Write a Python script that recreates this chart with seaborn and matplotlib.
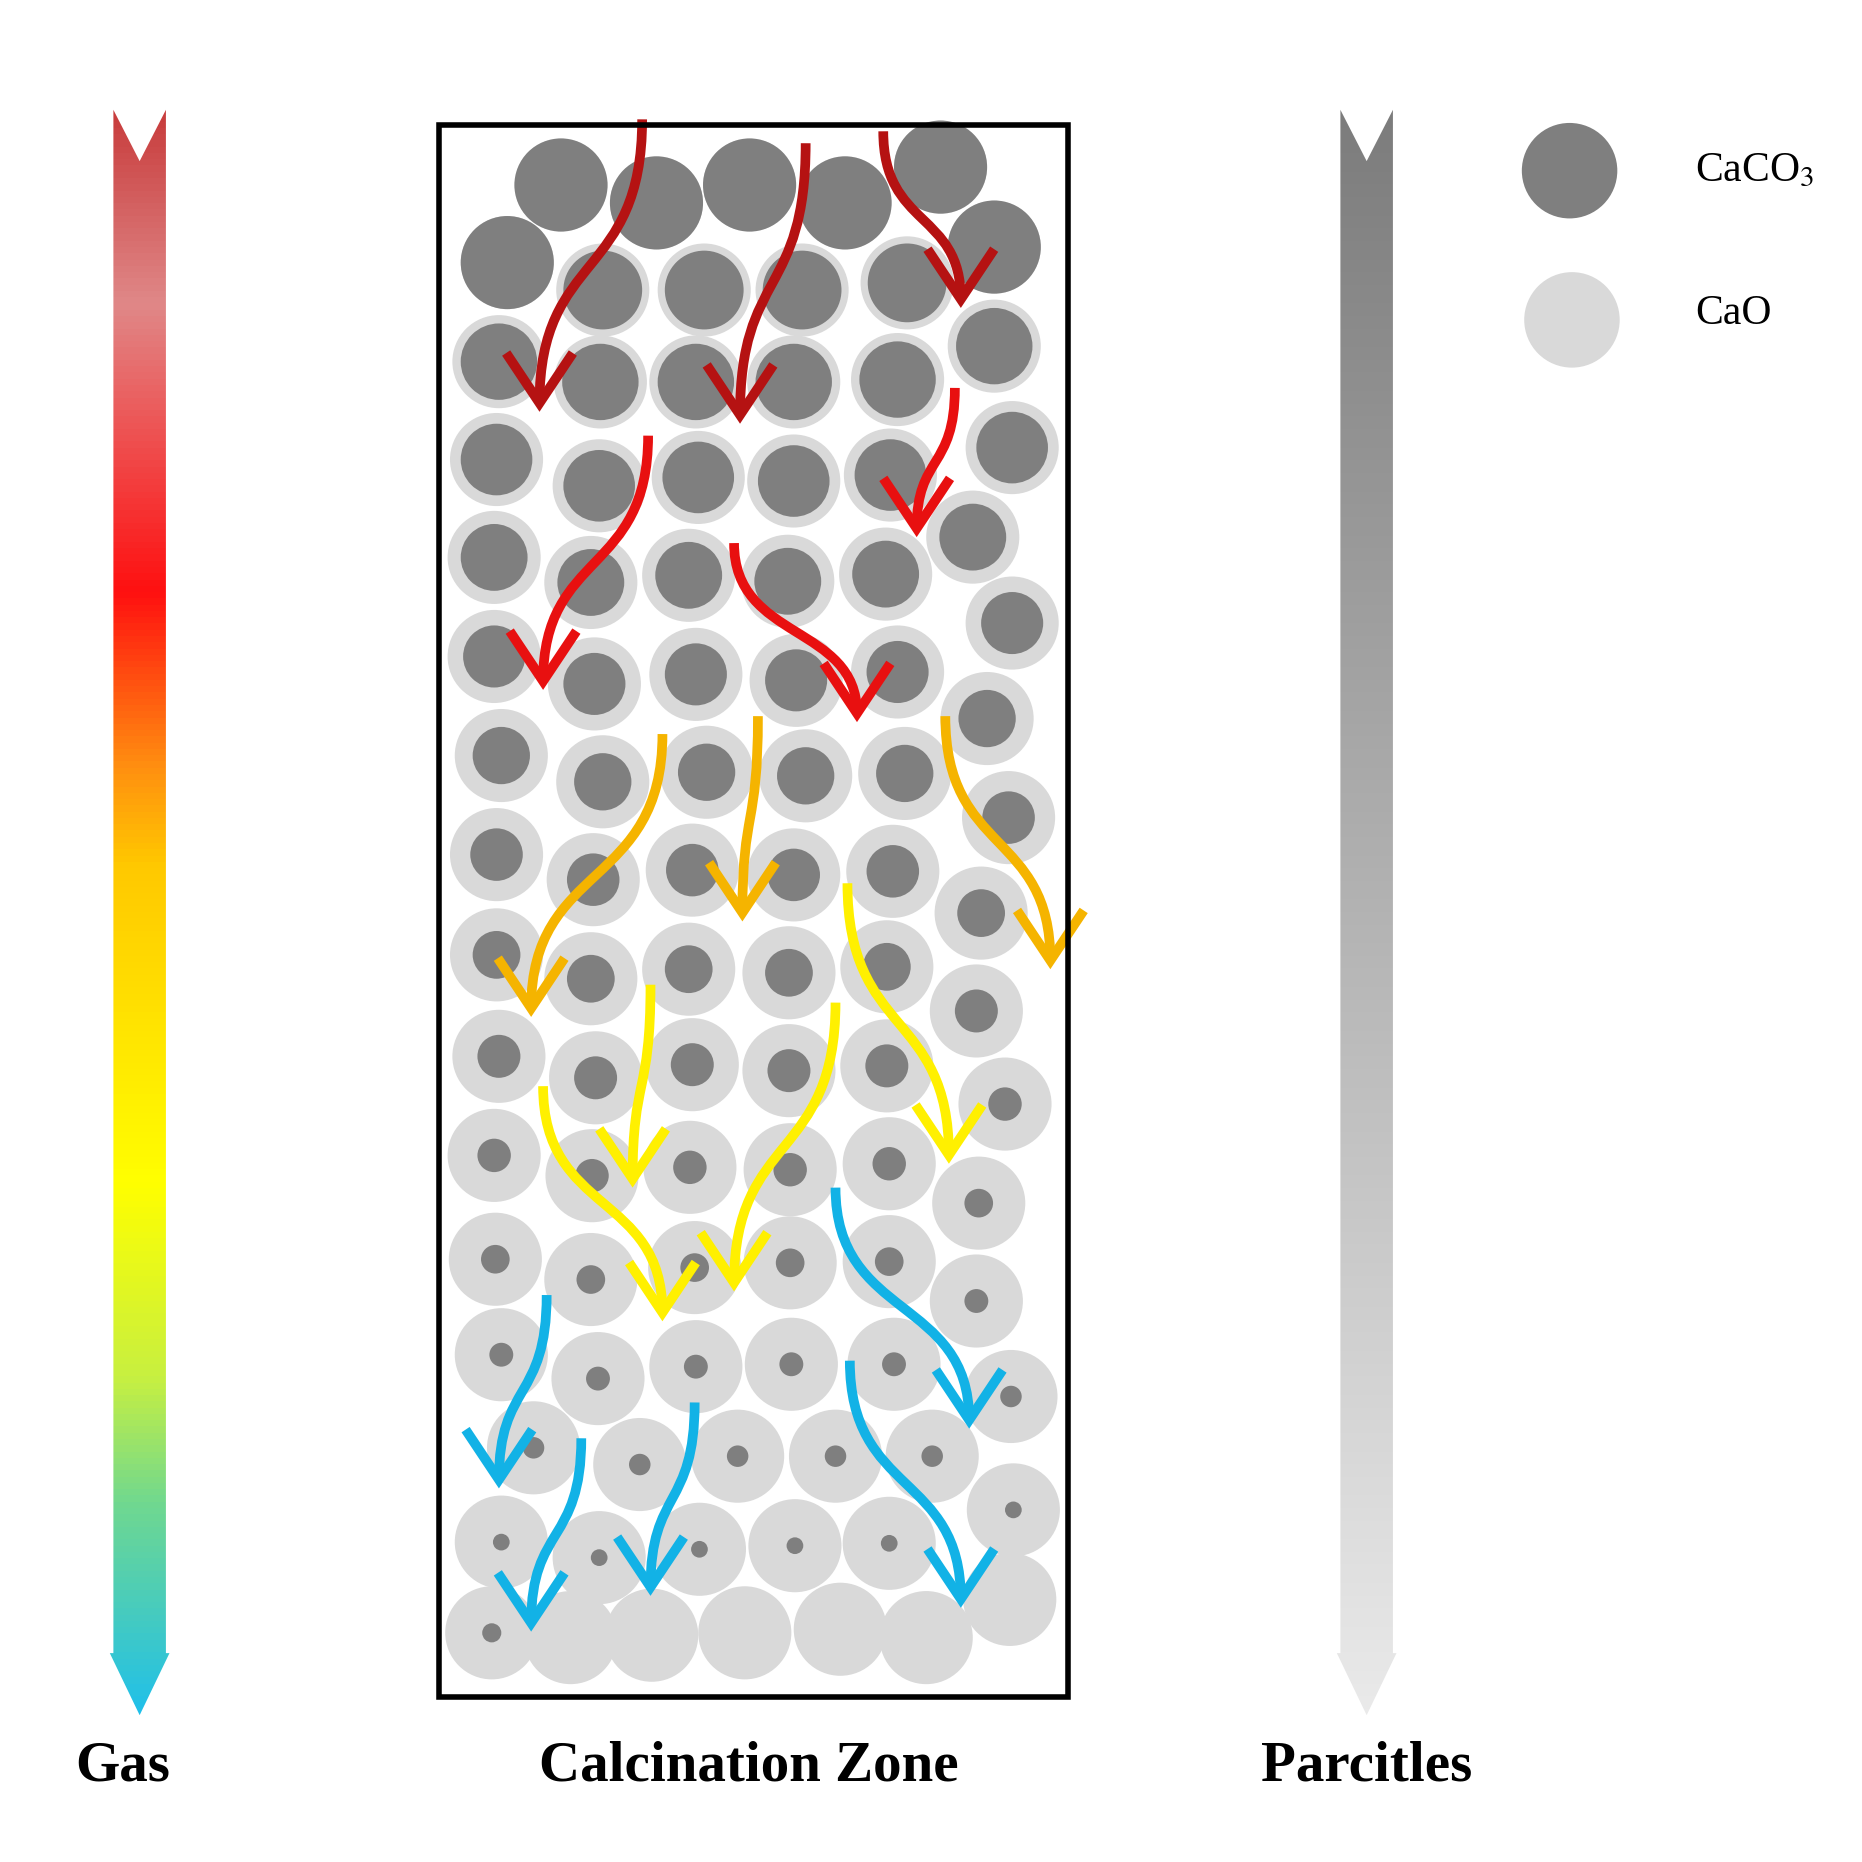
"""Calcination zone schematic: gas flow vs particle flow."""
import numpy as np
import matplotlib
matplotlib.use('Agg')
import matplotlib.pyplot as plt
import seaborn as sns
from matplotlib.path import Path
from matplotlib.patches import PathPatch, FancyArrowPatch, Circle, Rectangle
from matplotlib.colors import LinearSegmentedColormap

sns.set_style('white')
plt.rcParams['font.family'] = ['Liberation Serif', 'DejaVu Serif']
plt.rcParams['mathtext.fontset'] = 'stix'
plt.rcParams['text.color'] = 'black'

# particle rows: x, y, inner (CaCO3 core) radius
rows = [
    ([470, 550, 628, 708, 788, 833, 425], [155, 170, 155, 170, 140, 207, 220], 39),
    ([505, 590, 672, 760], [243, 243, 243, 237], 33),
    ([418, 503, 583, 665, 752, 833], [303, 320, 320, 320, 318, 290], 32),
    ([416, 502, 585, 665, 746, 848], [385, 407, 400, 403, 398, 375], 30),
    ([414, 495, 577, 660, 742, 815], [467, 488, 482, 487, 481, 450], 28),
    ([414, 498, 583, 667, 752, 848], [550, 573, 565, 570, 563, 522], 26),
    ([420, 505, 592, 675, 758, 827], [633, 655, 647, 650, 648, 602], 24),
    ([416, 497, 580, 665, 748, 845], [716, 737, 729, 733, 730, 685], 22),
    ([416, 495, 577, 661, 743, 822], [800, 820, 812, 815, 810, 765], 20),
    ([418, 499, 580, 661, 743, 818], [885, 903, 892, 897, 893, 847], 18),
    ([414, 496, 578, 662, 745, 842], [968, 985, 978, 980, 975, 925], 14),
    ([415, 495, 582, 662, 745, 820], [1055, 1072, 1062, 1058, 1057, 1008], 12),
    ([420, 501, 583, 663, 749, 818], [1135, 1155, 1145, 1143, 1143, 1090], 10),
    ([447, 536, 618, 700, 781, 847], [1213, 1227, 1220, 1220, 1220, 1170], 9),
    ([420, 502, 586, 666, 745, 849], [1292, 1305, 1298, 1295, 1293, 1265], 7),
    ([412, 478, 546, 624, 704, 776, 846], [1368, 1372, 1370, 1368, 1365, 1372, 1340], 0),
]
last_row_core = [8, 0, 0, 0, 0, 0, 0]

# gas streams: start, end, colour
arrows = [
    ((538, 100), (452, 345), '#b51212'),
    ((675, 120), (620, 355), '#b51212'),
    ((740, 110), (805, 258), '#b51212'),
    ((543, 365), (455, 578), '#e81010'),
    ((800, 325), (768, 450), '#e81010'),
    ((615, 455), (718, 605), '#e81010'),
    ((555, 615), (445, 852), '#f5b400'),
    ((635, 600), (622, 772), '#f5b400'),
    ((792, 600), (880, 812), '#f5b400'),
    ((545, 825), (530, 995), '#fff000'),
    ((700, 840), (615, 1082), '#fff000'),
    ((710, 740), (795, 975), '#fff000'),
    ((455, 910), (555, 1107), '#fff000'),
    ((458, 1085), (418, 1247), '#12b2e6'),
    ((700, 995), (812, 1197), '#12b2e6'),
    ((487, 1205), (445, 1367), '#12b2e6'),
    ((582, 1175), (545, 1337), '#12b2e6'),
    ((712, 1140), (805, 1347), '#12b2e6'),
]

gas_stops = [(0.0, '#c83c3c'), (0.12, '#e08888'), (0.30, '#ff1010'),
             (0.41, '#ff9010'), (0.47, '#ffc800'), (0.67, '#ffff00'),
             (0.79, '#c8f040'), (0.87, '#70d890'), (1.0, '#20c0ea')]
part_stops = [(0.0, '#7c7c7c'), (1.0, '#eaeaea')]

DARK, LIGHT = '#7f7f7f', '#d9d9d9'
R_OUT = 39

fig = plt.figure(figsize=(18.62, 18.62), dpi=100)
ax = fig.add_axes([0, 0, 1, 1])
ax.set_xlim(0, 1560)
ax.set_ylim(1560, 0)
ax.axis('off')


def grad_arrow(cx, stops):
    top, notch, head_y, tip = 92, 135, 1385, 1437
    verts = [(cx - 22, top), (cx, notch), (cx + 22, top), (cx + 22, head_y),
             (cx + 25, head_y), (cx, tip), (cx - 25, head_y), (cx - 22, head_y),
             (cx - 22, top)]
    patch = PathPatch(Path(verts, closed=True), fc='none', ec='none')
    ax.add_patch(patch)
    cmap = LinearSegmentedColormap.from_list('g', stops)
    grad = np.linspace(0, 1, 512).reshape(-1, 1)
    im = ax.imshow(grad, cmap=cmap, aspect='auto',
                   extent=(cx - 30, cx + 30, tip, top), zorder=2)
    im.set_clip_path(patch)


grad_arrow(117, gas_stops)
grad_arrow(1145, part_stops)

# particles
for i, (xs, ys, core) in enumerate(rows):
    for j, (x, y) in enumerate(zip(xs, ys)):
        ax.add_patch(Circle((x, y), R_OUT, fc=LIGHT, ec='none', zorder=3))
        c = last_row_core[j] if i == len(rows) - 1 else core
        if c > 0:
            ax.add_patch(Circle((x, y), c, fc=DARK, ec='none', zorder=4))

# gas arrows: S-shaped curves, vertical at both ends
for (x0, y0), (x1, y1), col in arrows:
    dy = y1 - y0
    path = Path([(x0, y0), (x0, y0 + 0.55 * dy), (x1, y1 - 0.55 * dy), (x1, y1)],
                [Path.MOVETO, Path.CURVE4, Path.CURVE4, Path.CURVE4])
    ax.add_patch(FancyArrowPatch(path=path, arrowstyle='->,head_length=0.9,head_width=0.6',
                                 mutation_scale=40, color=col, lw=7, zorder=5,
                                 joinstyle='miter', capstyle='butt'))

ax.add_patch(Rectangle((368, 105), 527, 1317, fc='none', ec='black', lw=4, zorder=6))

# legend
ax.add_patch(Circle((1315, 143), 40, fc=DARK, ec='none'))
ax.add_patch(Circle((1317, 268), 40, fc=LIGHT, ec='none'))
ax.text(1420, 143, r'CaCO$_3$', fontsize=30, va='center')
ax.text(1420, 263, 'CaO', fontsize=30, va='center')

for x, s in [(103, 'Gas'), (627, 'Calcination Zone'), (1145, 'Parcitles')]:
    ax.text(x, 1480, s, fontsize=41, fontweight='bold', ha='center', va='center')

fig.savefig('out.png', dpi=100)
